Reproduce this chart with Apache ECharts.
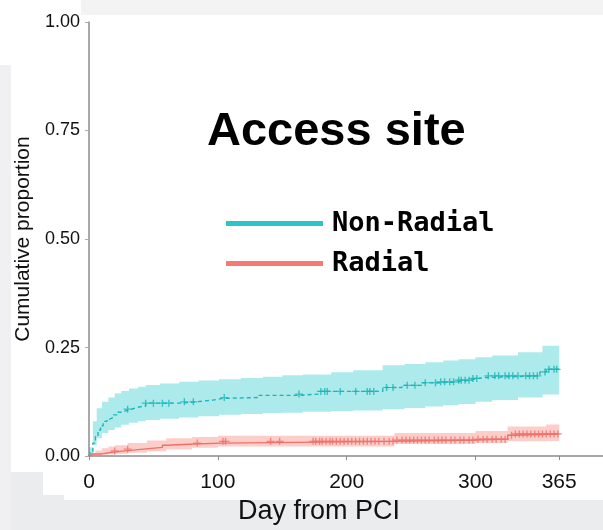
<!DOCTYPE html>
<html>
<head>
<meta charset="utf-8">
<script src="https://cdn.jsdelivr.net/npm/echarts@6/dist/echarts.min.js"></script>
<style>html,body{margin:0;padding:0;}#c{width:603px;height:530px;}</style>
</head>
<body>
<div id="c"></div>
<script>
// ---- data ----
var xTicks = [0, 100, 200, 300, 365];
var yTicks = [0, 0.25, 0.5, 0.75, 1];

// Non-Radial cumulative incidence (step, value holds from day until next day)
var nrDays = [0, 1, 3, 5, 7, 9, 11, 14, 16, 19, 22, 26, 29, 33, 37, 44, 70, 83, 96, 104, 132, 163, 179, 228, 243, 258, 272, 286, 296, 302, 308, 350, 355, 365];
var nrVals = [0, 0.01, 0.03, 0.045, 0.06, 0.07, 0.08, 0.085, 0.089, 0.095, 0.101, 0.105, 0.108, 0.112, 0.116, 0.122, 0.125, 0.129, 0.133, 0.135, 0.14, 0.143, 0.149, 0.158, 0.163, 0.169, 0.171, 0.175, 0.179, 0.181, 0.185, 0.194, 0.2, 0.2];
var nrBandDays = [0, 3, 6, 10, 15, 20, 25, 31, 38, 44, 55, 70, 85, 101, 118, 135, 150, 166, 188, 205, 228, 245, 261, 275, 287, 300, 313, 333, 352, 365];
var nrUpper = [0.02, 0.08, 0.11, 0.125, 0.135, 0.145, 0.15, 0.156, 0.16, 0.164, 0.167, 0.171, 0.174, 0.177, 0.18, 0.183, 0.186, 0.188, 0.193, 0.198, 0.209, 0.212, 0.216, 0.22, 0.223, 0.228, 0.232, 0.239, 0.254, 0.254];
var nrLower = [0, 0.025, 0.041, 0.053, 0.06, 0.066, 0.072, 0.077, 0.08, 0.083, 0.086, 0.089, 0.092, 0.095, 0.097, 0.099, 0.1, 0.102, 0.104, 0.105, 0.108, 0.111, 0.114, 0.117, 0.12, 0.125, 0.129, 0.135, 0.142, 0.142];
var nrCensor = [30, 44, 50, 57, 62, 74, 81, 105, 163, 180, 183, 185, 195, 207, 216, 218, 221, 231, 236, 247, 253, 261, 269, 273, 276, 280, 283, 287, 289, 292, 295, 298, 301, 310, 315, 318, 323, 326, 329, 333, 339, 342, 345, 348, 354, 357, 361, 363];

// Radial
var rDays = [0, 2, 10, 18, 28, 42, 57, 60, 82, 103, 237, 300, 325, 330, 365];
var rVals = [0, 0.005, 0.009, 0.012, 0.016, 0.02, 0.025, 0.028, 0.03, 0.034, 0.037, 0.039, 0.048, 0.051, 0.051];
var rBandDays = [0, 5, 10, 15, 20, 30, 45, 60, 80, 100, 237, 300, 325, 355, 365];
var rUpper = [0.008, 0.013, 0.018, 0.022, 0.025, 0.03, 0.036, 0.041, 0.044, 0.047, 0.053, 0.058, 0.068, 0.073, 0.073];
var rLower = [0.001, 0.002, 0.003, 0.004, 0.005, 0.008, 0.011, 0.015, 0.019, 0.022, 0.028, 0.03, 0.034, 0.035, 0.035];
var rCensor = [20, 30, 84, 104, 106, 141, 148, 174, 176, 179, 181, 184, 187, 189, 192, 195, 198, 201, 204, 207, 210, 213, 216, 219, 222, 225, 229, 233, 236, 239, 243, 246, 249, 252, 255, 258, 261, 264, 268, 271, 274, 277, 281, 284, 288, 291, 295, 298, 302, 306, 309, 313, 316, 320, 323, 328, 331, 334, 337, 340, 343, 346, 349, 352, 355, 358, 361, 364];

// ---- helpers ----
function pairs(xs, ys) { return xs.map(function (x, i) { return [x, ys[i]]; }); }
function stepAt(xs, ys, d) { var v = ys[0]; for (var i = 0; i < xs.length; i++) { if (xs[i] <= d) v = ys[i]; } return v; }
function censorPts(cs, xs, ys) { return cs.map(function (d) { return [d, stepAt(xs, ys, d)]; }); }
function bandRender(days, up, lo, fill) {
  return function (params, api) {
    var pts = [];
    for (var i = 0; i < days.length; i++) {
      pts.push(api.coord([days[i], up[i]]));
      if (i + 1 < days.length) pts.push(api.coord([days[i + 1], up[i]]));
    }
    for (var j = days.length - 1; j >= 0; j--) {
      if (j + 1 < days.length) pts.push(api.coord([days[j + 1], lo[j]]));
      pts.push(api.coord([days[j], lo[j]]));
    }
    return { type: 'polygon', shape: { points: pts }, style: { fill: fill } };
  };
}

var NR_COLOR = '#1DB5B8', R_COLOR = '#F0716A';
var plus = 'path://M0,5 L10,5 M5,0 L5,10';

var chart = echarts.init(document.getElementById('c'));
chart.setOption({
  backgroundColor: '#ebecee',
  animation: false,
  graphic: [
    { type: 'rect', z: -10, shape: { x: 81, y: 0, width: 522, height: 15 }, style: { fill: '#f3f3f3' } },
    { type: 'rect', z: -10, shape: { x: 0, y: 0, width: 81, height: 65 }, style: { fill: '#ffffff' } },
    { type: 'rect', z: -10, shape: { x: 0, y: 65, width: 11, height: 465 }, style: { fill: '#f0f0f2' } },
    { type: 'rect', z: -10, shape: { x: 11, y: 15, width: 592, height: 457 }, style: { fill: '#ffffff' } },
    { type: 'rect', z: -10, shape: { x: 43, y: 470, width: 560, height: 25 }, style: { fill: '#ffffff' } },
    { type: 'rect', z: -10, shape: { x: 64, y: 490, width: 539, height: 10 }, style: { fill: '#ffffff' } }
  ],
  title: {
    text: 'Access site', left: 202, top: 104,
    textStyle: { fontFamily: 'Liberation Sans, Arial', fontSize: 47, fontWeight: 'bold', color: '#000' }
  },
  legend: {
    orient: 'vertical', left: 221, top: 205, itemWidth: 97, itemHeight: 5, itemGap: 13, icon: 'rect',
    textStyle: { fontFamily: 'DejaVu Sans Mono', fontSize: 27, fontWeight: 'bold', color: '#000', padding: [0, 0, 0, 4] },
    data: [{ name: 'Non-Radial', itemStyle: { color: '#2BC4C7' } }, { name: 'Radial', itemStyle: { color: '#F57A71' } }]
  },
  grid: { left: 89, right: 0, top: 22, bottom: 72 },
  xAxis: {
    type: 'value', min: 0, max: 399,
    name: 'Day from PCI', nameLocation: 'middle', nameGap: 41,
    nameTextStyle: { fontFamily: 'Liberation Sans, Arial', fontSize: 27, color: '#111', padding: [0, 54, 0, 0] },
    axisLine: { lineStyle: { color: '#8c8c8c', width: 1.5 } },
    axisTick: { customValues: xTicks, length: 4, lineStyle: { color: '#8c8c8c' } },
    axisLabel: { customValues: xTicks, fontFamily: 'Liberation Sans, Arial', fontSize: 21, color: '#111', margin: 16 },
    splitLine: { show: false }
  },
  yAxis: {
    type: 'value', min: 0, max: 1, interval: 0.25,
    name: 'Cumulative proportion', nameLocation: 'middle', nameGap: 52,
    nameTextStyle: { fontFamily: 'Liberation Sans, Arial', fontSize: 21, color: '#111' },
    axisLine: { show: true, lineStyle: { color: '#8c8c8c', width: 1.5 } },
    axisTick: { show: true, length: 4, lineStyle: { color: '#aaa' } },
    axisLabel: { fontFamily: 'Liberation Sans, Arial', fontSize: 18, color: '#111', margin: 9,
      formatter: function (v) { return v.toFixed(2); } },
    splitLine: { show: false }
  },
  series: [
    { type: 'custom', name: 'Non-Radial CI', silent: true, z: 1, data: [[0, 0]],
      renderItem: bandRender(nrBandDays, nrUpper, nrLower, 'rgba(0,190,194,0.32)') },
    { type: 'custom', name: 'Radial CI', silent: true, z: 1, data: [[0, 0]],
      renderItem: bandRender(rBandDays, rUpper, rLower, 'rgba(248,118,109,0.36)') },
    { type: 'line', name: 'Non-Radial', step: 'end', showSymbol: false, z: 3,
      itemStyle: { color: NR_COLOR }, lineStyle: { color: NR_COLOR, width: 1.4, type: [4, 3] },
      data: pairs(nrDays, nrVals) },
    { type: 'line', name: 'Radial', step: 'end', showSymbol: false, z: 3,
      itemStyle: { color: R_COLOR }, lineStyle: { color: R_COLOR, width: 1.4 },
      data: pairs(rDays, rVals) },
    { type: 'scatter', name: 'Non-Radial censored', symbol: plus, symbolSize: [8, 7], z: 4,
      itemStyle: { color: 'none', borderColor: NR_COLOR, borderWidth: 1.3 },
      data: censorPts(nrCensor, nrDays, nrVals) },
    { type: 'scatter', name: 'Radial censored', symbol: plus, symbolSize: [8, 7], z: 4,
      itemStyle: { color: 'none', borderColor: R_COLOR, borderWidth: 1.3 },
      data: censorPts(rCensor, rDays, rVals) }
  ]
});
</script>
</body>
</html>
